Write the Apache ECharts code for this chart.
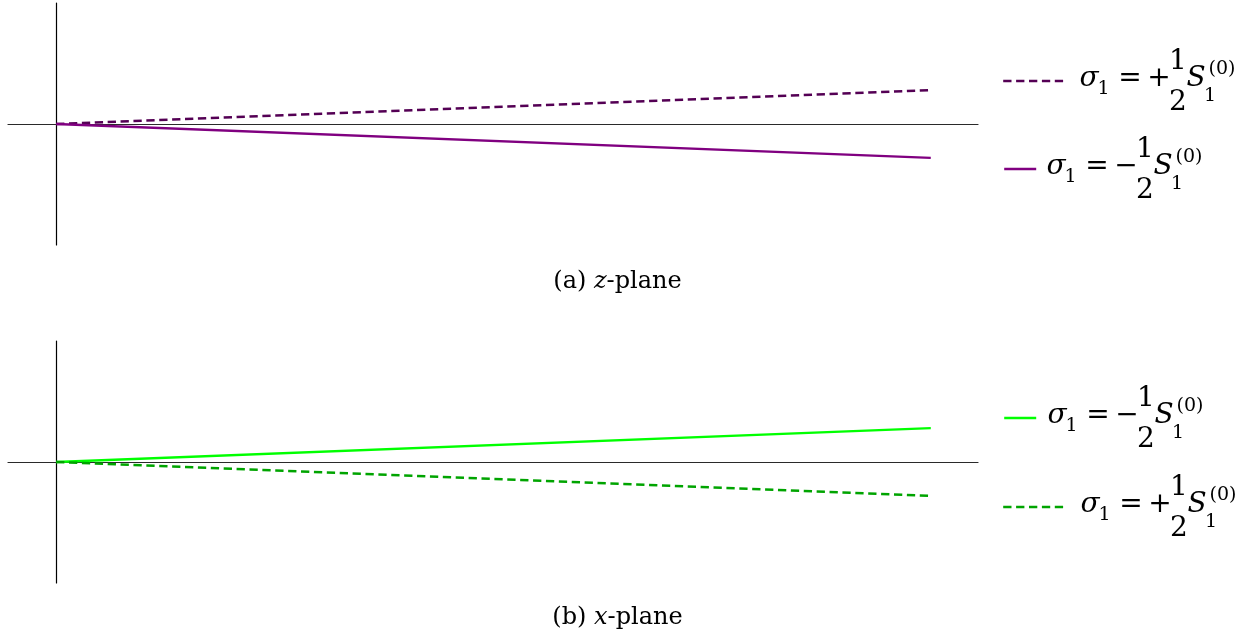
<!DOCTYPE html>
<html>
<head>
<meta charset="utf-8">
<style>
  html, body { margin: 0; padding: 0; background: #fff; }
  #chart { width: 1247px; height: 634px; }
</style>
<script src="https://cdn.jsdelivr.net/npm/echarts@6/dist/echarts.min.js"></script>
</head>
<body>
<div id="chart"></div>
<script>
// ---- data ----
const xPoints = [0, 1];
// (a) z-plane
const zPlusHalf = [0, 0.28];    // dashed, sigma1 = +1/2 S1^(0)
const zMinusHalf = [0, -0.28];  // solid, sigma1 = -1/2 S1^(0)
// (b) x-plane
const xMinusHalf = [0, 0.28];   // solid, sigma1 = -1/2 S1^(0)
const xPlusHalf = [0, -0.28];   // dashed, sigma1 = +1/2 S1^(0)
const captions = ['(a) {i|z}-plane', '(b) {i|x}-plane'];
const seriesNames = [
  'z: σ1 = +1/2 S1(0)', 'z: σ1 = −1/2 S1(0)',
  'x: σ1 = −1/2 S1(0)', 'x: σ1 = +1/2 S1(0)'
];
const signs = ['+', '−', '−', '+'];

// ---- styles ----
const C_DPURPLE = '#540054';
const C_PURPLE = '#800080';
const C_GREEN = '#00ff00';
const C_DGREEN = '#00a400';
const DASH = [8.3, 4.6];
const FAM = '"DejaVu Serif", serif';

function pts(ys) { return xPoints.map((x, i) => [x, ys[i]]); }

const grids = [
  { left: 8, width: 970, top: 3, height: 242 },
  { left: 8, width: 970, top: 341, height: 242 }
];
function xAx(i) {
  return {
    type: 'value', gridIndex: i, min: -0.055, max: 1.054,
    axisLine: { show: true, onZero: true, lineStyle: { color: '#2a2a2a', width: 1.2 } },
    axisTick: { show: false }, axisLabel: { show: false }, splitLine: { show: false }
  };
}
function yAx(i) {
  return {
    type: 'value', gridIndex: i, min: -1, max: 1,
    axisLine: { show: true, onZero: true, lineStyle: { color: '#000', width: 1.2 } },
    axisTick: { show: false }, axisLabel: { show: false }, splitLine: { show: false }
  };
}
function ser(name, i, ys, color, dashed) {
  return {
    name: name, type: 'line', xAxisIndex: i, yAxisIndex: i,
    data: pts(ys), symbol: 'none', showSymbol: false, silent: true,
    lineStyle: { color: color, width: 2.4, type: dashed ? DASH : 'solid' },
    itemStyle: { color: color }
  };
}

// legend rows: icon start x, icon width, row center y, text start x
const legendRows = [
  { x: 1002, w: 61, y: 81, tx: 1080 },
  { x: 1003, w: 32, y: 169, tx: 1047 },
  { x: 1003, w: 32, y: 418, tx: 1048 },
  { x: 1002, w: 61, y: 507, tx: 1081 }
];
const legends = legendRows.map((r, k) => ({
  data: [seriesNames[k]], left: r.x, top: r.y - 7, padding: 0,
  itemWidth: r.w, itemHeight: 14, itemGap: 0,
  formatter: () => '', selectedMode: false,
  itemStyle: { opacity: 0, color: 'transparent', borderWidth: 0 },
  lineStyle: { width: 2.4 },
  textStyle: { fontSize: 10, padding: 0 }
}));

const MAIN = 28, SCRIPT = 19, K = 0.346;
function txt(t, cx, baseline, size, italic) {
  const st = { fontFamily: FAM, fontSize: size, fontStyle: italic ? 'italic' : 'normal', fill: '#000', lineHeight: size };
  return {
    type: 'text', silent: true,
    style: {
      text: '{m|' + t + '}', x: cx, y: baseline - K * size,
      font: (italic ? 'italic ' : '') + size + 'px ' + FAM,
      fill: '#000', textAlign: 'center', textVerticalAlign: 'middle', verticalAlign: 'middle',
      rich: { m: st }
    }
  };
}
const graphics = [];
legendRows.forEach((r, k) => {
  const x0 = r.tx, b = r.y + 7.5;
  graphics.push(txt('σ', x0 + 9, b, MAIN, true));
  graphics.push(txt('1', x0 + 23.5, b + 7.5, SCRIPT, false));
  graphics.push(txt('=', x0 + 50, b, MAIN, false));
  graphics.push(txt(signs[k], x0 + 79, b, MAIN, false));
  graphics.push(txt('1', x0 + 98, b - 17, MAIN, false));
  graphics.push(txt('2', x0 + 98, b + 24, MAIN, false));
  graphics.push(txt('S', x0 + 116, b, MAIN, true));
  graphics.push(txt('1', x0 + 130, b + 14, SCRIPT, false));
  graphics.push(txt('(0)', x0 + 142, b - 13, SCRIPT, false));
});
[282, 617.5].forEach((y, i) => {
  graphics.push({
    type: 'text', silent: true,
    style: {
      text: captions[i], x: 617.5, y: y,
      font: '24px "DejaVu Serif", serif', fill: '#000',
      textAlign: 'center', textVerticalAlign: 'middle', verticalAlign: 'middle',
      rich: { i: { fontFamily: '"DejaVu Serif", serif', fontSize: 24, fontStyle: 'italic' } }
    }
  });
});

const chart = echarts.init(document.getElementById('chart'), null, { renderer: 'canvas' });
chart.setOption({
  backgroundColor: '#fff',
  animation: false,
  grid: grids,
  xAxis: [xAx(0), xAx(1)],
  yAxis: [yAx(0), yAx(1)],
  legend: legends,
  series: [
    ser(seriesNames[0], 0, zPlusHalf, C_DPURPLE, true),
    ser(seriesNames[1], 0, zMinusHalf, C_PURPLE, false),
    ser(seriesNames[2], 1, xMinusHalf, C_GREEN, false),
    ser(seriesNames[3], 1, xPlusHalf, C_DGREEN, true)
  ],
  graphic: graphics
});
</script>
</body>
</html>
